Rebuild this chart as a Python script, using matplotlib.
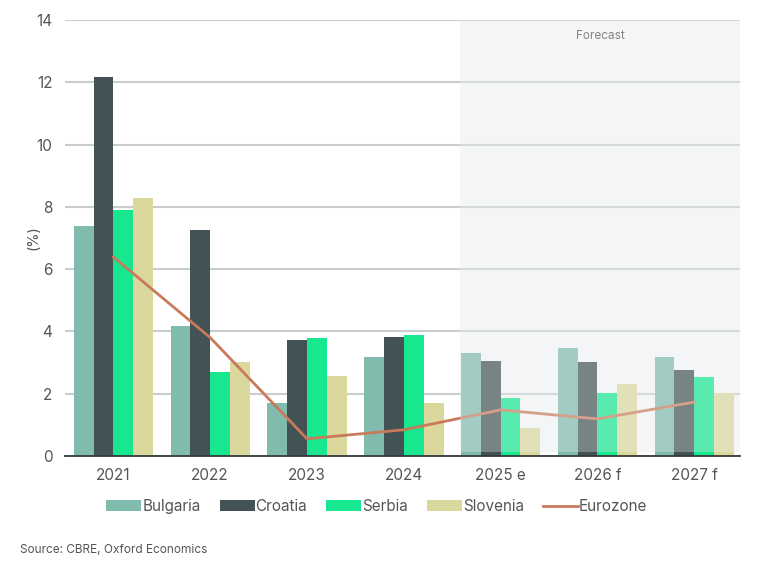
import numpy as np
import matplotlib
matplotlib.use("Agg")
import matplotlib.pyplot as plt
from matplotlib.patches import Rectangle

plt.rcParams['font.family'] = ['Inter', 'DejaVu Sans']

years = ["2021", "2022", "2023", "2024", "2025 e", "2026 f", "2027 f"]
bulgaria = [7.4, 4.17, 1.7, 3.18, 3.31, 3.47, 3.18]
croatia = [12.17, 7.26, 3.73, 3.82, 3.05, 3.02, 2.75]
serbia = [7.9, 2.7, 3.8, 3.89, 1.86, 2.02, 2.54]
slovenia = [8.28, 3.02, 2.57, 1.69, 0.9, 2.31, 2.02]
eurozone = [6.39, 3.8, 0.55, 0.84, 1.48, 1.19, 1.73]

series = [("Bulgaria", bulgaria, "#80BBAD"),
          ("Croatia", croatia, "#435254"),
          ("Serbia", serbia, "#17E88F"),
          ("Slovenia", slovenia, "#DBD89E")]

txt = "#555555"
fig = plt.figure(figsize=(7.69, 5.65), dpi=100)
ax = fig.add_axes([0.0845, 0.193, 0.8775, 0.7716])

x = np.arange(len(years))
w = 0.205
handles = []
for i, (name, vals, col) in enumerate(series):
    b = ax.bar(x + (i - 1.5) * w, vals, width=w, color=col, label=name, zorder=2)
    handles.append(b)
ln, = ax.plot(x, eurozone, color="#C97A5A", lw=2, label="Eurozone", zorder=3)
handles.append(ln)

# forecast shading, also laid over the bars
shade = "#F3F5F6"
ax.add_patch(Rectangle((3.58, 0.13), 6.47 - 3.58, 13.87, facecolor=shade,
                       alpha=0.3, edgecolor="none", zorder=4))
ax.add_patch(Rectangle((3.58, 0.13), 6.47 - 3.58, 13.87, facecolor=shade,
                       edgecolor="none", zorder=0))
ax.text(5.03, 13.5, "Forecast", ha="center", va="center", fontsize=8.5, color=txt)

ax.set_xlim(-0.5, 6.47)
ax.set_ylim(0, 14)
ax.set_yticks(range(0, 15, 2))
ax.set_xticks(x)
ax.set_xticklabels(years)
ax.yaxis.grid(True, color="#C8CDCD", lw=1.5, zorder=1)
ax.set_axisbelow(True)
for s in ["top", "right", "left"]:
    ax.spines[s].set_visible(False)
ax.spines["bottom"].set_color("#333B3C")
ax.spines["bottom"].set_linewidth(1.3)
ax.spines["bottom"].set_zorder(5)
ax.tick_params(axis="both", length=0, labelsize=11, colors=txt)
ax.tick_params(axis="x", pad=9)
ax.tick_params(axis="y", pad=9)
ax.set_ylabel("(%)", fontsize=10.5, color=txt)
ax.yaxis.set_label_coords(-0.037, 0.5)

ax.legend(handles=handles, loc="upper center", bbox_to_anchor=(0.462, -0.067), ncol=5,
          frameon=False, fontsize=11, labelcolor=txt, handlelength=2.3,
          handleheight=0.65, handletextpad=0.05, columnspacing=1.25)

fig.text(0.026, 0.022, "Source: CBRE, Oxford Economics", fontsize=8.5, color=txt)

fig.savefig("out.png", dpi=100)
